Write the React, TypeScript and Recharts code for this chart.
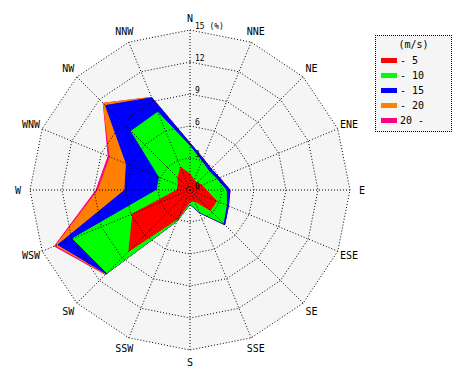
import { RadarChart, Radar, PolarGrid, PolarAngleAxis, PolarRadiusAxis } from 'recharts';

const directions = ['N', 'NNE', 'NE', 'ENE', 'E', 'ESE', 'SE', 'SSE', 'S', 'SSW', 'SW', 'WSW', 'W', 'WNW', 'NW', 'NNW'];

// cumulative frequency (%) by speed class
const upTo5 = [1.5, 1.0, 0.9, 1.2, 1.5, 2.7, 2.7, 1.1, 1.1, 2.9, 8.1, 5.8, 1.2, 1.2, 1.6, 2.3];
const upTo10 = [4.1, 2.9, 2.5, 2.7, 3.4, 3.7, 4.4, 2.2, 1.3, 3.1, 11.0, 11.9, 3.1, 3.1, 7.8, 7.9];
const upTo15 = [4.4, 3.2, 2.8, 3.0, 3.75, 3.9, 4.6, 2.3, 1.35, 3.15, 11.1, 13.4, 6.1, 6.45, 11.2, 9.35];
const upTo20 = [4.4, 3.2, 2.8, 3.0, 3.75, 3.9, 4.6, 2.3, 1.35, 3.15, 11.15, 13.6, 8.6, 8.1, 11.5, 9.4];
const allSpeeds = [4.4, 3.2, 2.8, 3.0, 3.75, 3.9, 4.6, 2.3, 1.35, 3.15, 11.2, 13.75, 8.8, 8.3, 11.5, 9.4];

const radiusTicks = [0, 3, 6, 9, 12, 15];
const speedLabels = ['- 5', '- 10', '- 15', '- 20', '20 -'];
const speedColors = ['#ff0000', '#00ff00', '#0000ff', '#ff8000', '#ff0080'];
const speedKeys = ['s5', 's10', 's15', 's20', 'sAll'];

const CX = 190;
const CY = 190;
const R = 160;
const MAX = 15;
const FONT = '"DejaVu Sans Mono", monospace';

const rows = directions.map((dir, i) => ({
  dir,
  s5: upTo5[i],
  s10: upTo10[i],
  s15: upTo15[i],
  s20: upTo20[i],
  sAll: allSpeeds[i],
}));

const rings = radiusTicks.filter((t) => t > 0).map((t) => (t / MAX) * R);

function AngleTick(props: any) {
  const { x, y, payload } = props;
  const dx = x - CX;
  const dy = y - CY;
  const d = Math.hypot(dx, dy) || 1;
  const r = 172;
  return (
    <text x={CX + (dx / d) * r} y={CY + (dy / d) * r} textAnchor="middle" dominantBaseline="central"
      fontSize={10} fontFamily={FONT} fill="#000">
      {payload.value}
    </text>
  );
}

function RadiusTick(props: any) {
  const { x, y, payload } = props;
  const v = payload.value;
  return (
    <text x={x + 5} y={y - 4} dominantBaseline="central" fontSize={8} fontFamily={FONT} fill="#000">
      {v === MAX ? `${v} (%)` : v}
    </text>
  );
}

function SpeedLegend() {
  return (
    <div style={{
      position: 'absolute', left: 375, top: 35, width: 75, height: 95,
      border: '1px dotted #000', background: '#f5f5f5', fontFamily: FONT, fontSize: 10,
    }}>
      <div style={{ position: 'absolute', left: 0, width: 75, top: 3, textAlign: 'center' }}>(m/s)</div>
      {speedLabels.map((label, i) => (
        <div key={label} style={{ position: 'absolute', left: 5, top: 18 + i * 15, height: 12, display: 'flex', alignItems: 'center' }}>
          <span style={{ display: 'inline-block', width: 16, height: 5, background: speedColors[i], marginRight: 3 }} />
          <span>{label}</span>
        </div>
      ))}
    </div>
  );
}

export default function App() {
  const order = [4, 3, 2, 1, 0];
  return (
    <div style={{ position: 'absolute', left: 0, top: 0, width: 470, height: 380, background: '#fff' }}>
      <RadarChart width={470} height={380} data={rows} cx={CX} cy={CY} outerRadius={R}
        startAngle={90} endAngle={-270} margin={{ top: 0, right: 0, bottom: 0, left: 0 }}>
        <PolarGrid gridType="polygon" polarRadius={[R]} radialLines={false} fill="#f5f5f5" fillOpacity={1} stroke="none" />
        {order.map((i) => (
          <Radar key={speedKeys[i]} dataKey={speedKeys[i]} name={speedLabels[i]} fill={speedColors[i]}
            fillOpacity={1} stroke={speedColors[i]} strokeWidth={1} isAnimationActive={false} dot={false} />
        ))}
        <PolarGrid gridType="polygon" polarRadius={rings} stroke="#000" strokeDasharray="1 2" zIndex={1000} />
        <PolarAngleAxis dataKey="dir" tick={<AngleTick />} axisLine={false} tickLine={false} />
        <PolarRadiusAxis angle={90} domain={[0, MAX]} ticks={radiusTicks} tick={<RadiusTick />}
          axisLine={false} tickLine={false} />
      </RadarChart>
      <SpeedLegend />
    </div>
  );
}
